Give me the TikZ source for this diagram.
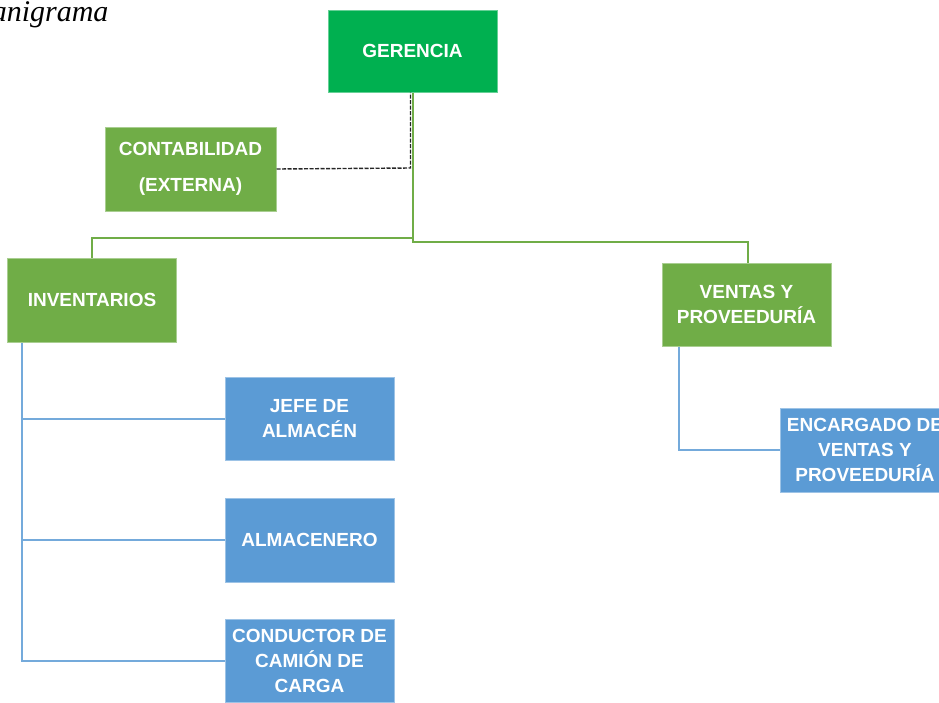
\documentclass[tikz,border=0pt]{standalone}
\usepackage{fontspec}
\setmainfont{Liberation Sans}
\newfontfamily\titfont{Liberation Serif}
\definecolor{verdeA}{HTML}{00B050}
\definecolor{verdeB}{HTML}{70AD47}
\definecolor{azul}{HTML}{5B9BD5}
\begin{document}
\begin{tikzpicture}[x=1pt,y=-1pt,
        caja/.style={minimum width=169,minimum height=83,inner sep=0pt,align=center,text=white,font=\fontsize{19}{25}\selectfont\bfseries,line width=1pt},
        cverde/.style={caja,fill=verdeB,draw=verdeB!60!white},
        cazul/.style={caja,fill=azul,draw=azul!60!white},
        gline/.style={verdeB,line width=2pt},
        bline/.style={azul!85!white,line width=2pt}]
        \useasboundingbox (0,0) rectangle (939,702);
        \clip (0,0) rectangle (939,702);
        \node[anchor=base east,font=\titfont\itshape\fontsize{30}{32}\selectfont] (titulo) at (112,21) {Organigrama};
        \node[caja,fill=verdeA,draw=verdeA!60!white,minimum height=82] (ger) at (412.5,51) {GERENCIA};
        \node[cverde,minimum width=171,minimum height=84,font=\fontsize{19}{36}\selectfont\bfseries] (cont) at (190.5,169) {CONTABILIDAD\\(EXTERNA)};
        \node[cverde,minimum height=84] (inv) at (92,300) {INVENTARIOS};
        \node[cverde] (vent) at (746.5,304.5) {VENTAS Y\\PROVEEDURÍA};
        \node[cazul] (jefe) at (309.5,418.5) {JEFE DE\\ALMACÉN};
        \node[cazul,minimum height=84] (alm) at (309.5,540) {ALMACENERO};
        \node[cazul] (cond) at (309.5,661) {CONDUCTOR DE\\CAMIÓN DE\\CARGA};
        \node[cazul,minimum width=170,minimum height=84] (enc) at (865,450) {ENCARGADO DE\\VENTAS Y\\PROVEEDURÍA};
        \coordinate (dk) at (410.5,168);
        \coordinate (brL) at (413,238);
        \coordinate (brR) at (413,242);
        \draw[gline] ([xshift=0.5pt]ger.south) -- (brR) -| ([xshift=1.5pt]vent.north);
        \draw[gline] (brL) -| (inv.north);
        \draw[black!85,line width=1.4pt,dash pattern=on 4pt off 1.5pt] (cont.east) -- (dk) -- (dk |- ger.south);
        \draw[bline] ([xshift=15pt]inv.south west) |- (cond.west);
        \foreach \n in {jefe,alm}
                \draw[bline] ([xshift=15pt]inv.south west |- \n.west) -- (\n.west);
        \draw[bline] ([xshift=17pt]vent.south west) |- (enc.west);
\end{tikzpicture}
\end{document}
